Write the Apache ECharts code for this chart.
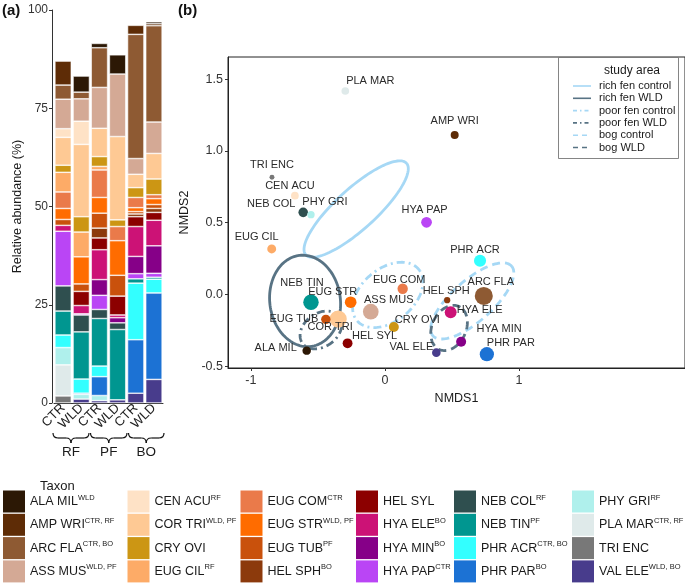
<!DOCTYPE html>
<html><head><meta charset="utf-8">
<script src="https://cdn.jsdelivr.net/npm/echarts@6/dist/echarts.min.js"></script>
<style>html,body{margin:0;padding:0;background:#fff}#c{width:685px;height:585px}</style>
</head><body><div id="c"></div>
<script>
// ---------- panel (a): stacked relative abundance ----------
const groups = ['RF CTR','RF WLD','PF CTR','PF WLD','BO CTR','BO WLD'];
const tickLabels = ['CTR','WLD','CTR','WLD','CTR','WLD'];
const siteLabels = ['RF','PF','BO'];
const taxa = ['ALA MIL','AMP WRI','ARC FLA','ASS MUS','CEN ACU','COR TRI','CRY OVI','EUG CIL',
  'EUG COM','EUG STR','EUG TUB','HEL SPH','HEL SYL','HYA ELE','HYA MIN','HYA PAP',
  'NEB COL','NEB TIN','PHR ACR','PHR PAR','PHY GRI','PLA MAR','TRI ENC','VAL ELE'];
const supers = ['WLD','CTR, RF','CTR, BO','WLD, PF','RF','WLD, PF','','RF',
  'CTR','WLD, PF','PF','BO','','BO','BO','CTR',
  'RF','PF','CTR, BO','BO','RF','CTR, RF','','WLD, BO'];
const taxonColors = ['#2c1805','#5e2c06','#8e5a33','#d4a995','#fee2c6','#fec994','#cc9614','#fdab67',
  '#ea7a4a','#ff6c00','#c9510c','#8c3a0c','#8c0000','#cc1276','#860088','#ba45f5',
  '#2f4f4f','#009690','#33ffff','#1c72d4','#aff0ec','#dfeaea','#787878','#483c8c'];

// relative abundance (%) per group: RF CTR, RF WLD, PF CTR, PF WLD, BO CTR, BO WLD
const ALA_MIL = [0, 4.1, 1.1, 4.9, 0, 0.5];
const AMP_WRI = [6.1, 0, 0, 0, 2.3, 0.5];
const ARC_FLA = [3.6, 1.7, 10.1, 0, 31.6, 24.5];
const ASS_MUS = [7.5, 5.7, 10.4, 15.9, 4.0, 8.0];
const CEN_ACU = [2.2, 5.9, 0, 0, 0, 0];
const COR_TRI = [7.1, 18.4, 7.2, 21.2, 3.4, 6.5];
const CRY_OVI = [1.8, 3.9, 2.5, 1.7, 2.5, 4.0];
const EUG_CIL = [5.0, 6.3, 0.9, 0, 0, 0];
const EUG_COM = [4.2, 0, 7.0, 3.6, 2.6, 1.0];
const EUG_STR = [2.8, 6.9, 4.0, 8.8, 1.0, 1.5];
const EUG_TUB = [1.5, 1.9, 3.8, 5.3, 0.6, 1.0];
const HEL_SPH = [0, 0, 2.5, 0, 0.7, 1.0];
const HEL_SYL = [0, 3.6, 3.0, 4.8, 2.5, 2.0];
const HYA_ELE = [1.5, 2.1, 7.6, 0.7, 7.6, 6.5];
const HYA_MIN = [0, 0, 4.0, 1.3, 4.4, 7.0];
const HYA_PAP = [13.9, 0.3, 3.6, 0, 1.3, 1.0];
const NEB_COL = [6.4, 4.3, 2.3, 1.7, 0, 0];
const NEB_TIN = [6.1, 12.0, 12.1, 17.9, 1.1, 0.5];
const PHR_ACR = [3.2, 3.6, 2.7, 0, 14.4, 3.5];
const PHR_PAR = [0, 0.3, 4.8, 0, 13.6, 22.0];
const PHY_GRI = [4.4, 1.2, 1.3, 0, 0, 0];
const PLA_MAR = [7.9, 0, 0, 0, 0, 0];
const TRI_ENC = [1.8, 0, 0, 0, 0, 0];
const VAL_ELE = [0, 1.0, 0.6, 0.8, 2.5, 6.0];
const abundRows = [ALA_MIL, AMP_WRI, ARC_FLA, ASS_MUS, CEN_ACU, COR_TRI, CRY_OVI, EUG_CIL,
  EUG_COM, EUG_STR, EUG_TUB, HEL_SPH, HEL_SYL, HYA_ELE, HYA_MIN, HYA_PAP,
  NEB_COL, NEB_TIN, PHR_ACR, PHR_PAR, PHY_GRI, PLA_MAR, TRI_ENC, VAL_ELE];

// ---------- panel (b): NMDS ----------
const nmds1 = [-0.584, 0.52, 0.737, -0.106, -0.672, -0.349, 0.066, -0.845,
  0.132, -0.256, -0.441, 0.464, -0.279, 0.49, 0.568, 0.31,
  -0.61, -0.552, 0.709, 0.76, -0.552, -0.296, -0.843, 0.383];
const nmds2 = [-0.391, 1.11, -0.01, -0.12, 0.688, -0.171, -0.226, 0.317,
  0.04, -0.054, -0.173, -0.04, -0.34, -0.124, -0.329, 0.503,
  0.572, -0.054, 0.235, -0.416, 0.556, 1.417, 0.816, -0.405];
const xTicksB = [-1, 0, 1];
const yTicksB = [-0.5, 0, 0.5, 1.0, 1.5];

// ellipses (study area): centre, semi-axes, angle (deg)
const ellGroups = ['rich fen control','rich fen WLD','poor fen control','poor fen WLD','bog control','bog WLD'];
const ellCx = [-0.215, -0.596, 0.021, -0.478, 0.651, 0.478];
const ellCy = [0.595, -0.045, -0.003, -0.247, -0.045, -0.233];
const ellA = [0.493, 0.32, 0.292, 0.166, 0.381, 0.167];
const ellB = [0.145, 0.263, 0.188, 0.118, 0.146, 0.125];
const ellAngle = [40, 100, 35, 30, 39, 60];

// ---------- styles ----------
const LB = '#a6d8f5', DK = '#587384';
const ellColor = [LB, DK, LB, DK, LB, DK];
const ellDash = [null, null, [8,4,2,4], [8,4,2,4], [8,5], [8,5]];
const legDash = [null, null, [4,3,1.5,3], [4,3,1.5,3], [5,4], [5,4]];
const labelOffset = {
  'ALA MIL':[-31,-3],'AMP WRI':[0,-14],'ARC FLA':[7,-14],'ASS MUS':[18,-12],'CEN ACU':[-5,-10],
  'COR TRI':[-8,8],'CRY OVI':[23.5,-7],'EUG CIL':[-15,-12],'EUG COM':[-3.5,-9],'EUG STR':[-18,-10],
  'EUG TUB':[-32,0],'HEL SPH':[-1,-9],'HEL SYL':[27,-7],'HYA ELE':[29,-2],'HYA MIN':[38,-13],
  'HYA PAP':[-2,-12],'NEB COL':[-32,-8],'NEB TIN':[-9,-19],'PHR ACR':[-5,-11],'PHR PAR':[24,-11],
  'PHY GRI':[14,-13],'PLA MAR':[25,-10],'TRI ENC':[0,-12],'VAL ELE':[-25,-6]
};
const FONT = 'Liberation Sans, Arial, sans-serif';

const chart = echarts.init(document.getElementById('c'));

const series = [];
for (let i = taxa.length - 1; i >= 0; i--) {
  series.push({
    type: 'bar', name: taxa[i], stack: 'ab', xAxisIndex: 0, yAxisIndex: 0,
    barWidth: 16.4,
    data: abundRows[i].map(v => v === 0 ? null : v),
    itemStyle: { color: taxonColors[i], borderColor: '#fff', borderWidth: 0.6 },
    emphasis: { disabled: true }
  });
}
// ellipses
series.push({
  type: 'custom', name: 'ellipses', xAxisIndex: 1, yAxisIndex: 1, z: 2, clip: true, silent: true,
  data: ellGroups.map((g, i) => [ellCx[i], ellCy[i], ellA[i], ellB[i], ellAngle[i]]),
  encode: { x: 0, y: 1 },
  renderItem(params, api) {
    const i = params.dataIndex;
    const cx = api.value(0), cy = api.value(1), a = api.value(2), b = api.value(3);
    const th = api.value(4) * Math.PI / 180;
    const pts = [];
    for (let k = 0; k <= 120; k++) {
      const t = 2 * Math.PI * k / 120;
      const dx = a * Math.cos(t) * Math.cos(th) - b * Math.sin(t) * Math.sin(th);
      const dy = a * Math.cos(t) * Math.sin(th) + b * Math.sin(t) * Math.cos(th);
      pts.push(api.coord([cx + dx, cy + dy]));
    }
    return { type: 'polyline', shape: { points: pts },
      style: { fill: null, stroke: ellColor[i], lineWidth: 2.8, lineDash: ellDash[i] } };
  }
});
// taxa points sized by mean abundance
series.push({
  type: 'scatter', name: 'taxa', xAxisIndex: 1, yAxisIndex: 1, z: 3,
  data: taxa.map((t, i) => {
    const mean = abundRows[i].reduce((s, v) => s + v, 0) / groups.length;
    return {
      name: t, value: [nmds1[i], nmds2[i]],
      symbolSize: 2.5 + 4.5 * Math.sqrt(mean),
      itemStyle: { color: taxonColors[i], opacity: 1 },
      label: { offset: labelOffset[t] }
    };
  }),
  label: { show: true, position: 'inside', formatter: p => p.name, fontSize: 11,
    color: '#2b2b2b', fontFamily: FONT },
  emphasis: { disabled: true }
});

// taxon legends (6 columns)
const colLeft = [3, 127.5, 240.5, 356, 454, 572];
const legends = colLeft.map((l, c) => ({
  left: l, top: 490.5, orient: 'vertical', padding: 0, itemGap: 1.3,
  itemWidth: 22, itemHeight: 22, icon: 'rect', selectedMode: false,
  itemStyle: { borderWidth: 0 },
  data: taxa.slice(c * 4, c * 4 + 4),
  formatter: name => {
    const s = supers[taxa.indexOf(name)];
    return s ? '{n|' + name + '}{s|' + s + '}' : '{n|' + name + '}';
  },
  textStyle: {
    fontFamily: FONT,
    rich: {
      n: { fontSize: 12.5, color: '#1a1a1a', lineHeight: 16, fontFamily: FONT },
      s: { fontSize: 7.5, color: '#1a1a1a', lineHeight: 9, verticalAlign: 'top', fontFamily: FONT }
    }
  }
}));

// graphic annotations
const graphics = [
  { type: 'text', style: { x: 2, y: 11, text: '(a)', font: 'bold 15px ' + FONT, fill: '#111', verticalAlign: 'middle', textVerticalAlign: 'middle' } },
  { type: 'text', style: { x: 178, y: 11, text: '(b)', font: 'bold 15px ' + FONT, fill: '#111', verticalAlign: 'middle', textVerticalAlign: 'middle' } },
  { type: 'text', style: { x: 40, y: 486, text: 'Taxon', font: '13px ' + FONT, fill: '#1a1a1a', verticalAlign: 'middle', textVerticalAlign: 'middle' } }
];
const braceX = [[53, 89], [90.5, 127], [128.5, 164]];
const bStroke = { stroke: '#111', lineWidth: 1.2, fill: null };
braceX.forEach((bx, k) => {
  const x1 = bx[0], x2 = bx[1], m = (x1 + x2) / 2, y0 = 433, y1 = 438, y2 = 443;
  graphics.push({ type: 'bezierCurve', shape: { x1: x1, y1: y0, cpx1: x1, cpy1: y1, x2: x1 + 5, y2: y1 }, style: bStroke });
  graphics.push({ type: 'line', shape: { x1: x1 + 5, y1: y1, x2: m - 5, y2: y1 }, style: bStroke });
  graphics.push({ type: 'bezierCurve', shape: { x1: m - 5, y1: y1, cpx1: m, cpy1: y1, x2: m, y2: y2 }, style: bStroke });
  graphics.push({ type: 'bezierCurve', shape: { x1: m, y1: y2, cpx1: m, cpy1: y1, x2: m + 5, y2: y1 }, style: bStroke });
  graphics.push({ type: 'line', shape: { x1: m + 5, y1: y1, x2: x2 - 5, y2: y1 }, style: bStroke });
  graphics.push({ type: 'bezierCurve', shape: { x1: x2 - 5, y1: y1, cpx1: x2, cpy1: y1, x2: x2, y2: y0 }, style: bStroke });
  graphics.push({ type: 'text', style: { x: m, y: 452, text: siteLabels[k], font: '13.5px ' + FONT, fill: '#1a1a1a',
    align: 'center', textAlign: 'center', verticalAlign: 'middle', textVerticalAlign: 'middle' } });
});
// study area legend box
graphics.push({ type: 'rect', shape: { x: 558.5, y: 57.5, width: 120, height: 101 },
  style: { fill: '#fff', stroke: '#666', lineWidth: 0.8 }, z: 10 });
graphics.push({ type: 'text', z: 11, style: { x: 632, y: 71, text: 'study area', font: '12px ' + FONT, fill: '#1a1a1a',
  align: 'center', textAlign: 'center', verticalAlign: 'middle', textVerticalAlign: 'middle' } });
ellGroups.forEach((g, i) => {
  const yy = 86 + i * 12.3;
  graphics.push({ type: 'line', z: 11, shape: { x1: 573, y1: yy, x2: 591, y2: yy },
    style: { stroke: ellColor[i], lineWidth: 1.6, lineDash: legDash[i] } });
  graphics.push({ type: 'text', z: 11, style: { x: 599, y: yy, text: g, font: '11px ' + FONT, fill: '#1a1a1a',
    verticalAlign: 'middle', textVerticalAlign: 'middle' } });
});

const option = {
  animation: false,
  textStyle: { fontFamily: FONT },
  grid: [
    { left: 54, right: 685 - 163, top: 10, bottom: 585 - 403 },
    { left: 228, right: -35, top: 57, bottom: 585 - 368, show: true, borderColor: '#222', borderWidth: 1 }
  ],
  xAxis: [
    { type: 'category', gridIndex: 0, data: groups,
      axisLine: { lineStyle: { color: '#333' } },
      axisTick: { alignWithLabel: true, interval: 0, length: 3, lineStyle: { color: '#333' } },
      axisLabel: { interval: 0, rotate: 45, margin: 3, fontSize: 13, color: '#222', formatter: (v, i) => tickLabels[i] } },
    { type: 'value', gridIndex: 1, min: -1.171, max: 2.238,
      name: 'NMDS1', nameLocation: 'middle', nameGap: 20,
      nameTextStyle: { fontSize: 12.5, color: '#1a1a1a' },
      axisLine: { onZero: false, lineStyle: { color: '#222' } },
      axisTick: { length: 3, customValues: xTicksB, lineStyle: { color: '#333' } },
      axisLabel: { customValues: xTicksB, fontSize: 12.5, color: '#333', margin: 6, formatter: v => String(v) },
      splitLine: { show: false } }
  ],
  yAxis: [
    { type: 'value', gridIndex: 0, min: 0, max: 100, interval: 25, offset: 2,
      name: 'Relative abundance (%)', nameLocation: 'middle', nameGap: 26,
      nameTextStyle: { fontSize: 12.5, color: '#1a1a1a' },
      axisLine: { show: true, lineStyle: { color: '#333' } },
      axisTick: { show: true, length: 3, lineStyle: { color: '#333' } },
      axisLabel: { fontSize: 12, color: '#333', margin: 4 },
      splitLine: { show: false } },
    { type: 'value', gridIndex: 1, min: -0.512, max: 1.654,
      name: 'NMDS2', nameLocation: 'middle', nameGap: 34,
      nameTextStyle: { fontSize: 12.5, color: '#1a1a1a' },
      axisLine: { show: true, onZero: false, lineStyle: { color: '#222' } },
      axisTick: { show: true, length: 3, customValues: yTicksB, lineStyle: { color: '#333' } },
      axisLabel: { customValues: yTicksB, fontSize: 12.5, color: '#333', margin: 5, formatter: v => v.toFixed(1) },
      splitLine: { show: false } }
  ],
  legend: legends,
  graphic: graphics,
  series: series
};
chart.setOption(option);
</script>
</body></html>
